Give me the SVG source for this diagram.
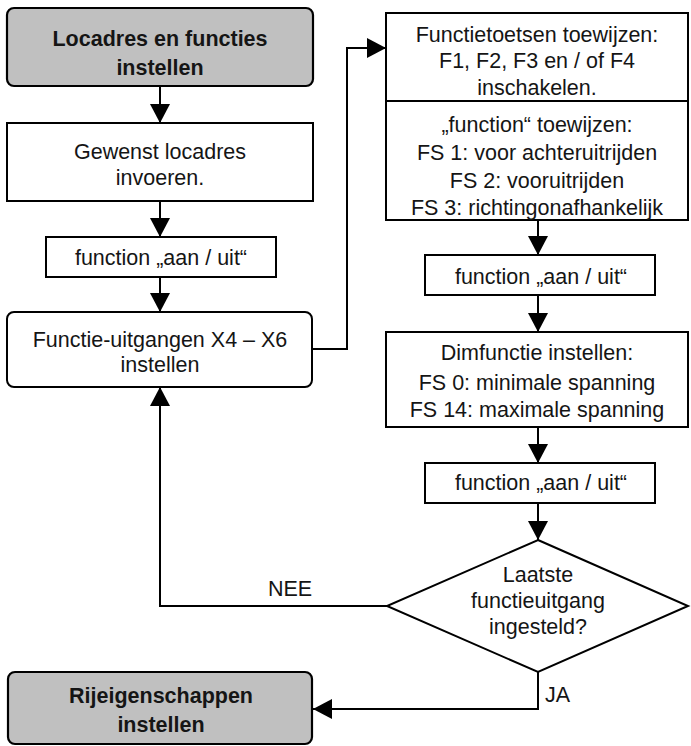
<svg xmlns="http://www.w3.org/2000/svg" width="691" height="746" viewBox="0 0 691 746">
<style>
text{font-family:"Liberation Sans",Arial,sans-serif;font-size:21.5px;fill:#151515;text-anchor:middle}
.b{font-weight:bold}
.box{fill:#fff;stroke:#000;stroke-width:2}
.grey{fill:#c0c0c0;stroke:#000;stroke-width:2.2}
.con{fill:none;stroke:#000;stroke-width:2;marker-end:url(#ah)}
.lbl{text-anchor:start}
</style>
<defs>
<marker id="ah" markerUnits="userSpaceOnUse" viewBox="0 0 19 20" refX="19" refY="10" markerWidth="19" markerHeight="20" orient="auto">
<path d="M0,0 L19,10 L0,20 z" fill="#000"/>
</marker>
</defs>
<g id="connectors">
<path class="con" d="M160,86 V123"/>
<path class="con" d="M160,201 V237"/>
<path class="con" d="M160,277 V312"/>
<path class="con" d="M312,349 H347 V48 H386"/>
<path class="con" d="M538,220 V255"/>
<path class="con" d="M538,295 V332"/>
<path class="con" d="M538,427 V463"/>
<path class="con" d="M538,503 V540"/>
<path class="con" d="M387,606 H160 V387"/>
<path class="con" d="M538,672 V709 H313"/>
<text class="lbl" x="268" y="596">NEE</text>
<text class="lbl" x="545" y="702">JA</text>
</g>
<g id="start">
<rect class="grey" x="7" y="8" width="306" height="78" rx="7"/>
<text class="b" x="160" y="46">Locadres en functies</text>
<text class="b" x="160" y="75">instellen</text>
</g>
<g id="locadres">
<rect class="box" x="7" y="123" width="306" height="78"/>
<text x="160" y="159">Gewenst locadres</text>
<text x="160" y="185">invoeren.</text>
</g>
<g id="function1">
<rect class="box" x="46" y="237" width="230" height="40"/>
<text x="161" y="265">function „aan / uit“</text>
</g>
<g id="uitgangen">
<rect class="box" x="7" y="312" width="305" height="75" rx="7"/>
<text x="160" y="347">Functie-uitgangen X4 – X6</text>
<text x="160" y="372">instellen</text>
</g>
<g id="toetsen">
<rect class="box" x="386" y="13" width="302" height="88"/>
<text x="537" y="42">Functietoetsen toewijzen:</text>
<text x="537" y="68">F1, F2, F3 en / of F4</text>
<text x="537" y="95">inschakelen.</text>
</g>
<g id="toewijzen">
<rect class="box" x="386" y="101" width="302" height="119"/>
<text x="537" y="132">„function“ toewijzen:</text>
<text x="537" y="160">FS 1: voor achteruitrijden</text>
<text x="537" y="188">FS 2: vooruitrijden</text>
<text x="537" y="215">FS 3: richtingonafhankelijk</text>
</g>
<g id="function2">
<rect class="box" x="425" y="255" width="230" height="40"/>
<text x="541" y="284">function „aan / uit“</text>
</g>
<g id="dim">
<rect class="box" x="386" y="332" width="302" height="95"/>
<text x="537" y="360">Dimfunctie instellen:</text>
<text x="537" y="390">FS 0: minimale spanning</text>
<text x="537" y="417">FS 14: maximale spanning</text>
</g>
<g id="function3">
<rect class="box" x="425" y="463" width="230" height="40"/>
<text x="541" y="490">function „aan / uit“</text>
</g>
<g id="decision">
<polygon class="box" points="538,540 688,606 538,672 387,606"/>
<text x="538" y="582">Laatste</text>
<text x="538" y="608">functieuitgang</text>
<text x="538" y="634">ingesteld?</text>
</g>
<g id="end">
<rect class="grey" x="8" y="672" width="304" height="72" rx="7"/>
<text class="b" x="161" y="703">Rijeigenschappen</text>
<text class="b" x="161" y="732">instellen</text>
</g>
</svg>
